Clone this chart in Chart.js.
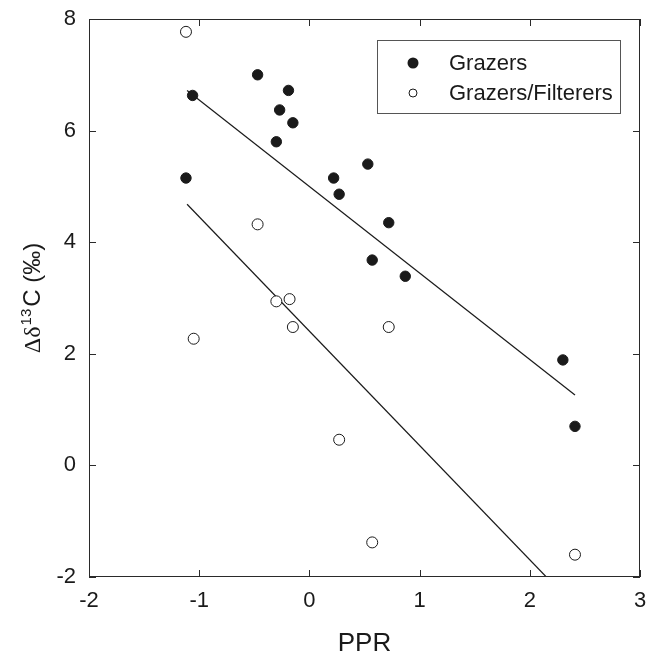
<!DOCTYPE html>
<html>
<head>
<meta charset="utf-8">
<script src="https://cdn.jsdelivr.net/npm/chart.js@4.4.1/dist/chart.umd.min.js"></script>
<style>
  html, body { margin: 0; padding: 0; background: #ffffff; }
  #wrap { width: 650px; height: 661px; position: relative; }
</style>
</head>
<body>
<div id="wrap"><canvas id="c" width="650" height="661"></canvas></div>
<script>
// ---- data ----
const grazersPPR   = [-1.12, -1.06, -0.47, -0.19, -0.27, -0.15, -0.30, 0.22, 0.27, 0.53, 0.72, 0.57, 0.87, 2.30, 2.41];
const grazersD13C  = [ 5.15,  6.63,  7.00,  6.72,  6.37,  6.14,  5.80, 5.15, 4.86, 5.40, 4.35, 3.68, 3.39, 1.89, 0.70];
const filterersPPR  = [-1.12, -0.47, -0.30, -0.18, -0.15, -1.05, 0.27, 0.72, 0.57, 2.41];
const filterersD13C = [ 7.77,  4.32,  2.94,  2.98,  2.48,  2.27, 0.46, 2.48, -1.38, -1.60];
const grazersFitPPR   = [-1.11, 2.41];
const grazersFitD13C  = [ 6.72, 1.26];
const filterersFitPPR  = [-1.11, 2.15];
const filterersFitD13C = [ 4.68, -2.00];
const seriesNames = ['Grazers', 'Grazers/Filterers'];
const xTicks = [-2, -1, 0, 1, 2, 3];
const yTicks = [-2, 0, 2, 4, 6, 8];
const xTitle = 'PPR';
const yTitleParts = ['Δδ', '13', 'C (‰)'];

const toPts = (xs, ys) => xs.map((x, i) => ({ x: x, y: ys[i] }));
const INK = '#1a1a1a';
const FONT = '"Liberation Sans", Arial, sans-serif';
const SERIF = '"Liberation Serif", "Times New Roman", serif';

const framePlugin = {
  id: 'frame',
  afterDraw(chart) {
    const { ctx, chartArea: a, scales } = chart;
    ctx.save();
    ctx.strokeStyle = '#2a2a2a';
    ctx.lineWidth = 1;
    ctx.strokeRect(a.left + 0.5, a.top + 0.5, a.right - a.left - 1, a.bottom - a.top - 1);
    const tl = 7;
    ctx.beginPath();
    xTicks.forEach(v => {
      const px = Math.round(scales.x.getPixelForValue(v)) + 0.5;
      ctx.moveTo(px, a.bottom); ctx.lineTo(px, a.bottom - tl);
      ctx.moveTo(px, a.top); ctx.lineTo(px, a.top + tl);
    });
    yTicks.forEach(v => {
      const py = Math.round(scales.y.getPixelForValue(v)) + 0.5;
      ctx.moveTo(a.left, py); ctx.lineTo(a.left + tl, py);
      ctx.moveTo(a.right, py); ctx.lineTo(a.right - tl, py);
    });
    ctx.stroke();

    // legend box
    const bx = a.right - 263, by = a.top + 21, bw = 243, bh = 73;
    ctx.strokeStyle = '#555';
    ctx.strokeRect(bx + 0.5, by + 0.5, bw, bh);
    ctx.font = '22px ' + FONT;
    ctx.textBaseline = 'middle';
    ctx.fillStyle = INK;
    ctx.beginPath(); ctx.arc(bx + 36, by + 23, 5.5, 0, Math.PI * 2); ctx.fill();
    ctx.fillText(seriesNames[0], bx + 72, by + 24);
    ctx.beginPath(); ctx.arc(bx + 36, by + 53, 4, 0, Math.PI * 2);
    ctx.strokeStyle = INK; ctx.stroke();
    ctx.fillText(seriesNames[1], bx + 72, by + 54);

    // y-axis title with superscript
    const cy = (a.top + a.bottom) / 2;
    ctx.translate(32, cy);
    ctx.rotate(-Math.PI / 2);
    const f1 = '24px ' + SERIF, f2 = '15px ' + FONT, f3 = '24px ' + FONT;
    ctx.font = f1; const w1 = ctx.measureText(yTitleParts[0]).width;
    ctx.font = f2; const w2 = ctx.measureText(yTitleParts[1]).width + 3;
    ctx.font = f3; const w3 = ctx.measureText(yTitleParts[2]).width;
    let x0 = -(w1 + w2 + w3) / 2;
    ctx.textBaseline = 'alphabetic';
    ctx.textAlign = 'left';
    const base = 8;
    ctx.font = f1; ctx.fillText(yTitleParts[0], x0, base); x0 += w1 + 1;
    ctx.font = f2; ctx.fillText(yTitleParts[1], x0, base - 9); x0 += w2 - 1;
    ctx.font = f3; ctx.fillText(yTitleParts[2], x0, base);
    ctx.restore();
  }
};

new Chart(document.getElementById('c'), {
  type: 'scatter',
  data: {
    datasets: [
      { label: seriesNames[0], data: toPts(grazersPPR, grazersD13C),
        pointRadius: 5.2, pointBackgroundColor: INK, pointBorderColor: INK, pointBorderWidth: 1 },
      { label: seriesNames[1], data: toPts(filterersPPR, filterersD13C),
        pointRadius: 5.5, pointBackgroundColor: '#ffffff', pointBorderColor: INK, pointBorderWidth: 1 },
      { label: 'fit1', data: toPts(grazersFitPPR, grazersFitD13C), showLine: true,
        pointRadius: 0, borderColor: INK, borderWidth: 1.2, fill: false },
      { label: 'fit2', data: toPts(filterersFitPPR, filterersFitD13C), showLine: true,
        pointRadius: 0, borderColor: INK, borderWidth: 1.2, fill: false }
    ]
  },
  options: {
    responsive: false,
    animation: false,
    layout: { padding: { left: 0, right: 10, top: 19, bottom: 0 } },
    plugins: { legend: { display: false }, tooltip: { enabled: false } },
    scales: {
      x: {
        type: 'linear', min: -2, max: 3,
        afterBuildTicks: s => { s.ticks = xTicks.map(v => ({ value: v })); },
        afterFit: s => { s.height = 84; s.paddingLeft = 0; s.paddingRight = 0; },
        grid: { display: false, drawTicks: false },
        border: { display: false },
        ticks: { padding: 11, color: INK, font: { family: FONT, size: 22 } },
        title: { display: true, text: xTitle, color: INK, padding: { top: 0, bottom: 2 },
                 font: { family: FONT, size: 26 } }
      },
      y: {
        type: 'linear', min: -2, max: 8,
        afterBuildTicks: s => { s.ticks = yTicks.map(v => ({ value: v })); },
        afterFit: s => { s.width = 89; s.paddingTop = 0; s.paddingBottom = 0; },
        grid: { display: false, drawTicks: false },
        border: { display: false },
        ticks: { padding: 13, color: INK, font: { family: FONT, size: 22 } },
        title: { display: false }
      }
    }
  },
  plugins: [framePlugin]
});
</script>
</body>
</html>
